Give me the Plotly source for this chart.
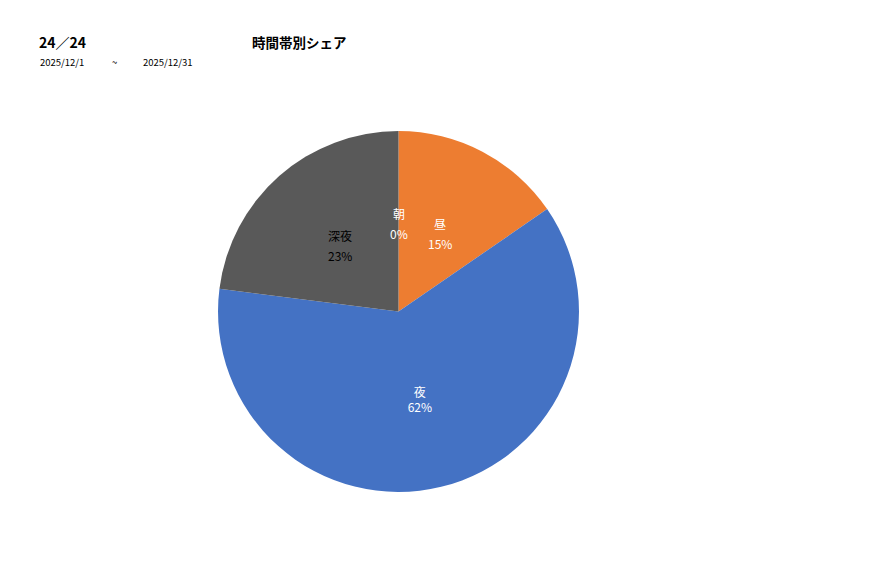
import math
import plotly.graph_objects as go

labels = ["朝", "昼", "夜", "深夜"]
values = [0.0, 15.4, 61.6, 23.0]
colors = ["#FFC000", "#ED7D31", "#4472C4", "#595959"]
text_colors = ["#FFFFFF", "#FFFFFF", "#FFFFFF", "#000000"]

title_left = "24／24"
title_center = "時間帯別シェア"
date_from = "2025/12/1"
date_sep = "~"
date_to = "2025/12/31"

W, H = 877, 578
FONT = "Noto Sans CJK JP, Meiryo, sans-serif"

dom_x = [0.2486, 0.6602]
dom_y = [0.1488, 0.7734]

total = sum(values)
# the largest slice uses the library's own inside text; others are labelled at mid-angle
big = values.index(max(values))
templates = ["%{label}<br>%{percent:.0%}" if i == big else "" for i in range(len(labels))]

fig = go.Figure(go.Pie(
    labels=labels, values=values, sort=False, direction="clockwise", rotation=0,
    marker=dict(colors=colors, line=dict(width=0)),
    texttemplate=templates, textposition="inside", insidetextorientation="horizontal",
    textfont=dict(family=FONT, size=12, color=text_colors),
    domain=dict(x=dom_x, y=dom_y), hoverinfo="label+percent", showlegend=False,
))

cx = (dom_x[0] + dom_x[1]) / 2
cy = (dom_y[0] + dom_y[1]) / 2
r_px = (dom_y[1] - dom_y[0]) * H / 2
cum = 0.0
for i, (lab, v) in enumerate(zip(labels, values)):
    mid = cum + v / 2
    cum += v
    if i == big:
        continue
    ang = math.radians(mid / total * 360)
    rr = 0.49 * r_px
    ax = cx + rr * math.sin(ang) / W
    ay = cy + rr * math.cos(ang) / H
    for dy, t in [(10, lab), (-10, f"{round(v / total * 100)}%")]:
        fig.add_annotation(x=ax, y=ay + dy / H, xref="paper", yref="paper", showarrow=False,
                           xanchor="center", yanchor="middle", text=t,
                           font=dict(family=FONT, size=12, color=text_colors[i]))

fig.add_annotation(x=37 / W, y=1 - 42 / H, xref="paper", yref="paper", xanchor="left",
                   yanchor="middle", showarrow=False, text=f"<b>{title_left}</b>",
                   font=dict(family=FONT, size=14, color="#000000"))
fig.add_annotation(x=250 / W, y=1 - 42 / H, xref="paper", yref="paper", xanchor="left",
                   yanchor="middle", showarrow=False, text=f"<b>{title_center}</b>",
                   font=dict(family=FONT, size=13.5, color="#000000"))
for xp, t in [(38, date_from), (110, date_sep), (141, date_to)]:
    fig.add_annotation(x=xp / W, y=1 - 62 / H, xref="paper", yref="paper", xanchor="left",
                       yanchor="middle", showarrow=False, text=t,
                       font=dict(family=FONT, size=9.5, color="#000000"))

fig.update_layout(width=W, height=H, margin=dict(l=0, r=0, t=0, b=0),
                  paper_bgcolor="#FFFFFF", plot_bgcolor="#FFFFFF",
                  font=dict(family=FONT))
fig.write_html("out.html", config={"displayModeBar": False},
               post_script="document.body.style.margin='0';")
